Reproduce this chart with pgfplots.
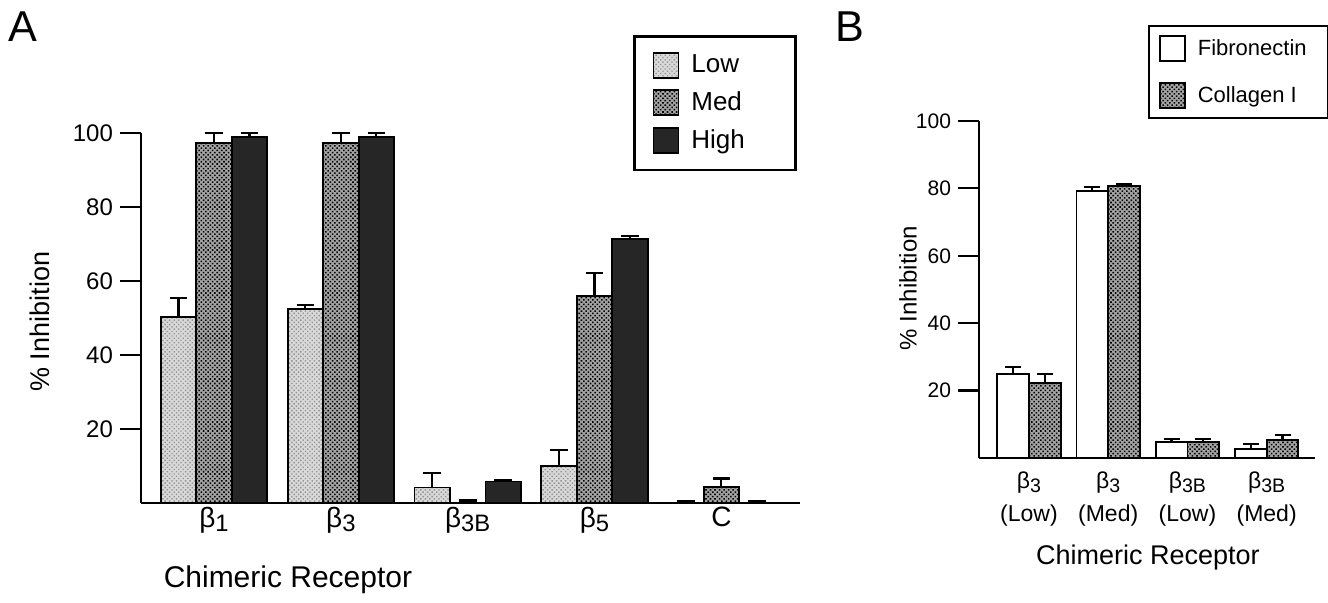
\documentclass[border=0pt]{standalone}
\usepackage{fontspec}
\setmainfont{Liberation Sans}
\usepackage{pgfplots}
\usepackage{pgfplotstable}
\pgfplotsset{compat=1.18}
\usetikzlibrary{patterns.meta}

% small lowered index after beta
\newcommand{\sub}[1]{\raisebox{-0.3ex}{\scalebox{0.85}{#1}}}

\pgfplotstableread{
x low lowerr med mederr high higherr
0 50.3 5.1 97.2 2.9 99.0 1.1
1 52.4 1.1 97.2 2.7 99.0 0.9
2 4.2  3.9 0.0  0.7 5.8  0.4
3 9.9  4.5 56.0 6.2 71.3 0.9
4 0.0  0.6 4.3  2.3 0.0  0.6
}\dataA

\pgfplotstableread{
x fib fiberr col colerr
0 24.9 2.1 22.3 2.6
1 79.3 1.2 80.8 0.5
2 4.7  0.9 4.7  1.0
3 2.7  1.4 5.3  1.5
}\dataB

\tikzset{
  lowbar/.style={draw=black, line width=0.9pt, fill=gray!30,
    postaction={pattern={Dots[distance=1.6pt, radius=0.5pt, angle=45]}, pattern color=gray!85}},
  medbar/.style={draw=black, line width=0.9pt, fill=gray!72,
    postaction={pattern={Dots[distance=1.6pt, radius=0.55pt, angle=45]}, pattern color=black}},
  highbar/.style={draw=black, line width=0.9pt, fill=black!85},
  fibbar/.style={draw=black, line width=0.9pt, fill=white},
}

\pgfplotsset{
  panel/.style={
    scale only axis, clip=false,
    axis x line=bottom, axis y line=left,
    axis line style={-, line width=1.1pt},
    ymin=0, ymax=100, ytick={20,40,60,80,100},
    tick align=outside, major tick length=10.5pt,
    ytick style={line width=1.1pt, black},
    xtick style={draw=none},
    /pgf/number format/assume math mode=true,
    ybar=0pt,
    legend cell align=left,
    legend image code/.code={\draw[##1, line width=0.9pt] (0pt,-6.25pt) rectangle (12.5pt,6.25pt);},
    error bars/y dir=plus, error bars/y explicit,
    error bars/error bar style={line width=1.1pt, black},
  },
}

\begin{document}
\begin{tikzpicture}
\path[use as bounding box] (0,0) rectangle (664pt,301.5pt);

\node[font=\fontsize{21.6}{24}\selectfont, anchor=base] at (11.25pt,280.5pt) {A};
\node[font=\fontsize{21.6}{24}\selectfont, anchor=base] at (425pt,280.5pt) {B};

% panel A
\begin{axis}[panel,
  at={(70.5pt,50pt)}, anchor=south west,
  width=329.5pt, height=185pt,
  xmin=-0.576, xmax=4.62,
  bar width=0.28,
  xtick={0,1,2,3,4},
  xticklabels={β\sub{1}, β\sub{3}, β\sub{3B}, β\sub{5}, C},
  xticklabel style={font=\fontsize{14}{16}\selectfont, yshift=12pt},
  yticklabel style={font=\fontsize{12}{14}\selectfont},
  error bars/error mark options={rotate=90, line width=1.1pt, black, mark size=4.4pt},
  xlabel={Chimeric Receptor},
  ylabel={\% Inhibition},
  xlabel style={font=\fontsize{15}{17}\selectfont, at={(axis description cs:0.223,-0.208)}, anchor=center},
  ylabel style={font=\fontsize{13.5}{16}\selectfont, at={(axis description cs:-0.153,0.49)}, anchor=center},
  legend style={at={(axis description cs:0.747,1.265)}, anchor=north west,
    draw=black, line width=1.3pt, font=\fontsize{13}{15}\selectfont,
    inner xsep=9pt, inner ysep=7.25pt, row sep=4pt},
]
\addplot[lowbar] table[x=x, y=low, y error=lowerr] {\dataA};
\addlegendentry{\makebox[45pt][l]{\hspace{4pt}Low}}
\addplot[medbar] table[x=x, y=med, y error=mederr] {\dataA};
\addlegendentry{\makebox[45pt][l]{\hspace{4pt}Med}}
\addplot[highbar] table[x=x, y=high, y error=higherr] {\dataA};
\addlegendentry{\makebox[45pt][l]{\hspace{4pt}High}}
\end{axis}

% panel B
\begin{axis}[panel,
  at={(489.5pt,72.5pt)}, anchor=south west,
  width=168pt, height=168.5pt,
  xmin=-0.63, xmax=3.61,
  bar width=0.40,
  xtick={0,1,2,3},
  xticklabels={β\sub{3}\\(Low), β\sub{3}\\(Med), β\sub{3B}\\(Low), β\sub{3B}\\(Med)},
  xticklabel style={font=\fontsize{11.5}{16.5}\selectfont, align=center, yshift=7pt},
  yticklabel style={font=\fontsize{10.5}{12}\selectfont},
  error bars/error mark options={rotate=90, line width=1.1pt, black, mark size=4pt},
  xlabel={Chimeric Receptor},
  ylabel={\% Inhibition},
  xlabel style={font=\fontsize{13.5}{16}\selectfont, at={(axis description cs:0.503,-0.295)}, anchor=center},
  ylabel style={font=\fontsize{12}{14}\selectfont, at={(axis description cs:-0.211,0.504)}, anchor=center},
  legend style={at={(axis description cs:0.503,1.284)}, anchor=north west,
    draw=black, line width=1pt, font=\fontsize{11}{13}\selectfont,
    inner xsep=5pt, inner ysep=4.5pt, row sep=10pt},
]
\addplot[fibbar] table[x=x, y=fib, y error=fiberr] {\dataB};
\addlegendentry{\makebox[62pt][l]{\hspace{4pt}Fibronectin}}
\addplot[medbar] table[x=x, y=col, y error=colerr] {\dataB};
\addlegendentry{\makebox[62pt][l]{\hspace{4pt}Collagen I}}
\end{axis}
\end{tikzpicture}
\end{document}
